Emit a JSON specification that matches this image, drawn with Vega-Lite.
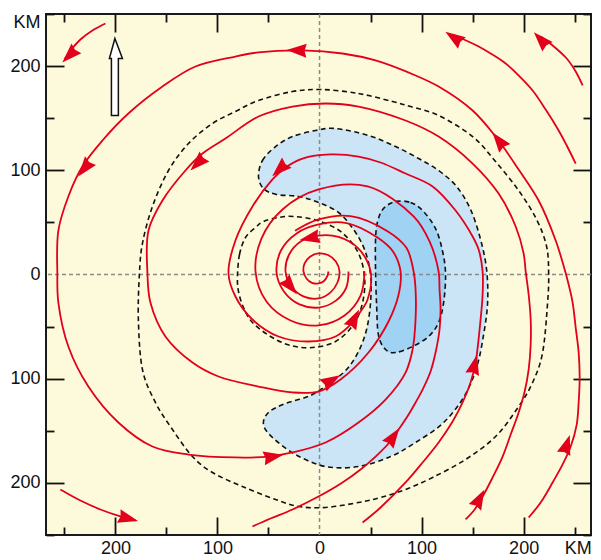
{
  "$schema": "https://vega.github.io/schema/vega-lite/v6.json",
  "width": 545,
  "height": 521,
  "autosize": "none",
  "padding": {"left": 46, "top": 14, "right": 10, "bottom": 25},
  "background": "white",
  "config": {
    "view": {"fill": "#fdfadb", "stroke": "#1a1a1a", "strokeWidth": 2},
    "axis": {"domain": false, "grid": false, "labelFont": "Liberation Sans", "labelFontSize": 18, "labelColor": "#111", "tickColor": "#111", "tickWidth": 1.8, "labelOverlap": false, "labelFlush": false}
  },
  "datasets": {
    "shapes": [
      {"id":"light","i":0,"x":-59.8,"y":94},{"id":"light","i":1,"x":-55.9,"y":109.4},{"id":"light","i":2,"x":-43.1,"y":122.8},{"id":"light","i":3,"x":-26.5,"y":132.4},{"id":"light","i":4,"x":-3.9,"y":138.2},{"id":"light","i":5,"x":15.7,"y":140.1},{"id":"light","i":6,"x":48,"y":133.4},{"id":"light","i":7,"x":74.5,"y":122.8},{"id":"light","i":8,"x":97.1,"y":111.3},{"id":"light","i":9,"x":116.7,"y":99.8},{"id":"light","i":10,"x":134.3,"y":84.5},{"id":"light","i":11,"x":148,"y":62.4},{"id":"light","i":12,"x":157.8,"y":33.6},{"id":"light","i":13,"x":163.7,"y":4.8},{"id":"light","i":14,"x":164.7,"y":-26.9},{"id":"light","i":15,"x":160.8,"y":-57.6},{"id":"light","i":16,"x":153.9,"y":-89.3},{"id":"light","i":17,"x":141.2,"y":-118},{"id":"light","i":18,"x":120.6,"y":-143},{"id":"light","i":19,"x":94.1,"y":-161.2},{"id":"light","i":20,"x":69.6,"y":-174.7},{"id":"light","i":21,"x":38.2,"y":-184.3},{"id":"light","i":22,"x":5.9,"y":-184.3},{"id":"light","i":23,"x":-23.5,"y":-172.8},{"id":"light","i":24,"x":-46.1,"y":-156.4},{"id":"light","i":25,"x":-54.9,"y":-144},{"id":"light","i":26,"x":-50,"y":-132.4},{"id":"light","i":27,"x":-33.3,"y":-123.8},{"id":"light","i":28,"x":-8.8,"y":-116.1},{"id":"light","i":29,"x":10.8,"y":-103.6},{"id":"light","i":30,"x":26.5,"y":-91.2},{"id":"light","i":31,"x":38.2,"y":-73.9},{"id":"light","i":32,"x":46.1,"y":-52.8},{"id":"light","i":33,"x":50,"y":-26.9},{"id":"light","i":34,"x":50,"y":0},{"id":"light","i":35,"x":44.1,"y":24},{"id":"light","i":36,"x":33.3,"y":43.2},{"id":"light","i":37,"x":18.6,"y":59.5},{"id":"light","i":38,"x":-1,"y":69.1},{"id":"light","i":39,"x":-20.6,"y":74.9},{"id":"light","i":40,"x":-42.2,"y":76.8},{"id":"light","i":41,"x":-54.9,"y":82.5},
      {"id":"dark","i":0,"x":74.5,"y":70.1},{"id":"dark","i":1,"x":89.2,"y":69.1},{"id":"dark","i":2,"x":101,"y":61.4},{"id":"dark","i":3,"x":113.7,"y":44.1},{"id":"dark","i":4,"x":120.6,"y":22.1},{"id":"dark","i":5,"x":123.5,"y":0},{"id":"dark","i":6,"x":121.6,"y":-26.9},{"id":"dark","i":7,"x":116.7,"y":-46.1},{"id":"dark","i":8,"x":106.9,"y":-59.5},{"id":"dark","i":9,"x":91.2,"y":-69.1},{"id":"dark","i":10,"x":74.5,"y":-74.9},{"id":"dark","i":11,"x":64.7,"y":-72},{"id":"dark","i":12,"x":57.8,"y":-58.5},{"id":"dark","i":13,"x":55.9,"y":-28.8},{"id":"dark","i":14,"x":54.9,"y":4.8},{"id":"dark","i":15,"x":54.9,"y":33.6},{"id":"dark","i":16,"x":56.9,"y":50.9},{"id":"dark","i":17,"x":62.7,"y":63.3},
      {"id":"outer","i":0,"x":2.9,"y":177.5},{"id":"outer","i":1,"x":38.2,"y":173.7},{"id":"outer","i":2,"x":71.6,"y":166},{"id":"outer","i":3,"x":89.2,"y":161.2},{"id":"outer","i":4,"x":116.7,"y":152.6},{"id":"outer","i":5,"x":150,"y":132.4},{"id":"outer","i":6,"x":172.5,"y":108.4},{"id":"outer","i":7,"x":195.1,"y":80.6},{"id":"outer","i":8,"x":212.7,"y":52.8},{"id":"outer","i":9,"x":222.5,"y":26.9},{"id":"outer","i":10,"x":224.5,"y":1},{"id":"outer","i":11,"x":223.5,"y":-26.9},{"id":"outer","i":12,"x":218.6,"y":-74.9},{"id":"outer","i":13,"x":208.8,"y":-103.6},{"id":"outer","i":14,"x":195.1,"y":-126.7},{"id":"outer","i":15,"x":172.5,"y":-155.5},{"id":"outer","i":16,"x":143.1,"y":-177.5},{"id":"outer","i":17,"x":110.8,"y":-194.8},{"id":"outer","i":18,"x":84.3,"y":-206.3},{"id":"outer","i":19,"x":59.8,"y":-214},{"id":"outer","i":20,"x":38.2,"y":-218.8},{"id":"outer","i":21,"x":5.9,"y":-223.6},{"id":"outer","i":22,"x":-20.6,"y":-222.6},{"id":"outer","i":23,"x":-43.1,"y":-215.9},{"id":"outer","i":24,"x":-75.5,"y":-203.5},{"id":"outer","i":25,"x":-104.9,"y":-190},{"id":"outer","i":26,"x":-124.5,"y":-174.7},{"id":"outer","i":27,"x":-144.1,"y":-148.8},{"id":"outer","i":28,"x":-160.8,"y":-122.8},{"id":"outer","i":29,"x":-173.5,"y":-91.2},{"id":"outer","i":30,"x":-177.5,"y":-43.2},{"id":"outer","i":31,"x":-176.5,"y":0},{"id":"outer","i":32,"x":-173.5,"y":29.8},{"id":"outer","i":33,"x":-163.7,"y":65.3},{"id":"outer","i":34,"x":-148,"y":99.8},{"id":"outer","i":35,"x":-128.4,"y":125.7},{"id":"outer","i":36,"x":-104.9,"y":144.9},{"id":"outer","i":37,"x":-82.4,"y":156.4},{"id":"outer","i":38,"x":-59.8,"y":167},{"id":"outer","i":39,"x":-26.5,"y":175.6},
      {"id":"inner","i":0,"x":-80.4,"y":-1.9},{"id":"inner","i":1,"x":-78.4,"y":19.2},{"id":"inner","i":2,"x":-72.5,"y":35.5},{"id":"inner","i":3,"x":-62.7,"y":45.1},{"id":"inner","i":4,"x":-54.9,"y":50.9},{"id":"inner","i":5,"x":-40.2,"y":54.7},{"id":"inner","i":6,"x":-25.5,"y":55.7},{"id":"inner","i":7,"x":-2,"y":51.8},{"id":"inner","i":8,"x":20.6,"y":41.3},{"id":"inner","i":9,"x":37.3,"y":22.1},{"id":"inner","i":10,"x":44.1,"y":-1.9},{"id":"inner","i":11,"x":42.2,"y":-26.9},{"id":"inner","i":12,"x":33.3,"y":-48},{"id":"inner","i":13,"x":15.7,"y":-64.3},{"id":"inner","i":14,"x":-6.9,"y":-70.1},{"id":"inner","i":15,"x":-28.4,"y":-68.1},{"id":"inner","i":16,"x":-48,"y":-59.5},{"id":"inner","i":17,"x":-65.7,"y":-46.1},{"id":"inner","i":18,"x":-74.5,"y":-31.7},{"id":"inner","i":19,"x":-79.4,"y":-16.3}
    ],
    "stream": [
      {"s":"C","i":0,"x":204.9,"y":-233.2},{"s":"C","i":1,"x":216.7,"y":-218.8},{"s":"C","i":2,"x":228.4,"y":-199.6},{"s":"C","i":3,"x":238.2,"y":-182.3},{"s":"C","i":4,"x":246.1,"y":-165.1},{"s":"C","i":5,"x":252,"y":-144},{"s":"C","i":6,"x":253.9,"y":-122.8},{"s":"C","i":7,"x":254.9,"y":-98.8},{"s":"C","i":8,"x":253.9,"y":-74.9},{"s":"C","i":9,"x":251,"y":-50.9},{"s":"C","i":10,"x":248,"y":-26.9},{"s":"C","i":11,"x":244.1,"y":-9.6},{"s":"C","i":12,"x":240.2,"y":4.8},{"s":"C","i":13,"x":231.4,"y":32.6},{"s":"C","i":14,"x":214.7,"y":71},{"s":"C","i":15,"x":195.1,"y":100.8},{"s":"C","i":16,"x":172.5,"y":132.4},{"s":"C","i":17,"x":150,"y":157.4},{"s":"C","i":18,"x":116.7,"y":180.4},{"s":"C","i":19,"x":94.1,"y":191},{"s":"C","i":20,"x":54.9,"y":205.4},{"s":"C","i":21,"x":22.5,"y":212.1},{"s":"C","i":22,"x":-16.7,"y":215},{"s":"C","i":23,"x":-59.8,"y":213.1},{"s":"C","i":24,"x":-82.4,"y":209.2},{"s":"C","i":25,"x":-121.6,"y":199.6},{"s":"C","i":26,"x":-153.9,"y":180.4},{"s":"C","i":27,"x":-187.3,"y":154.5},{"s":"C","i":28,"x":-212.7,"y":128.6},{"s":"C","i":29,"x":-232.4,"y":103.6},{"s":"C","i":30,"x":-246.1,"y":74.9},{"s":"C","i":31,"x":-255.9,"y":42.2},{"s":"C","i":32,"x":-256.9,"y":1},{"s":"C","i":33,"x":-255.9,"y":-26.9},{"s":"C","i":34,"x":-246.1,"y":-69.1},{"s":"C","i":35,"x":-226.5,"y":-107.5},{"s":"C","i":36,"x":-197.1,"y":-142},{"s":"C","i":37,"x":-163.7,"y":-165.1},{"s":"C","i":38,"x":-128.4,"y":-172.8},{"s":"C","i":39,"x":-82.4,"y":-175.6},{"s":"C","i":40,"x":-50,"y":-174.7},{"s":"C","i":41,"x":-26.5,"y":-170.8},{"s":"C","i":42,"x":5.9,"y":-161.2},{"s":"C","i":43,"x":38.2,"y":-142},{"s":"C","i":44,"x":64.7,"y":-120},{"s":"C","i":45,"x":84.3,"y":-94.1},{"s":"C","i":46,"x":91.2,"y":-72},{"s":"C","i":47,"x":94.1,"y":-43.2},{"s":"C","i":48,"x":94.1,"y":-14.4},{"s":"C","i":49,"x":92.2,"y":2.9},{"s":"C","i":50,"x":85.3,"y":25.4},{"s":"C","i":51,"x":67,"y":41.3},{"s":"C","i":52,"x":30.4,"y":56},{"s":"C","i":53,"x":-1,"y":52.8},{"s":"C","i":54,"x":-24,"y":41.9},
      {"s":"L4","i":0,"x":143.1,"y":-235.1},{"s":"L4","i":1,"x":152,"y":-225.5},{"s":"L4","i":2,"x":159.8,"y":-213.1},{"s":"L4","i":3,"x":169.6,"y":-194.8},{"s":"L4","i":4,"x":179.4,"y":-174.7},{"s":"L4","i":5,"x":187.3,"y":-153.6},{"s":"L4","i":6,"x":195.1,"y":-132.4},{"s":"L4","i":7,"x":201,"y":-112.3},{"s":"L4","i":8,"x":204.9,"y":-91.2},{"s":"L4","i":9,"x":206.9,"y":-67.2},{"s":"L4","i":10,"x":206.9,"y":-43.2},{"s":"L4","i":11,"x":204.9,"y":-19.2},{"s":"L4","i":12,"x":202,"y":2.9},{"s":"L4","i":13,"x":200,"y":20.2},{"s":"L4","i":14,"x":192.2,"y":46.1},{"s":"L4","i":15,"x":175.5,"y":77.7},{"s":"L4","i":16,"x":150,"y":106.5},{"s":"L4","i":17,"x":116.7,"y":132.4},{"s":"L4","i":18,"x":84.3,"y":147.8},{"s":"L4","i":19,"x":38.2,"y":161.2},{"s":"L4","i":20,"x":5.9,"y":164.1},{"s":"L4","i":21,"x":-26.5,"y":161.2},{"s":"L4","i":22,"x":-59.8,"y":151.6},{"s":"L4","i":23,"x":-92.2,"y":130.5},{"s":"L4","i":24,"x":-114.7,"y":116.1},{"s":"L4","i":25,"x":-131.4,"y":99.8},{"s":"L4","i":26,"x":-153.9,"y":71},{"s":"L4","i":27,"x":-167.6,"y":42.2},{"s":"L4","i":28,"x":-168.6,"y":1},{"s":"L4","i":29,"x":-165.7,"y":-26.9},{"s":"L4","i":30,"x":-151,"y":-59.5},{"s":"L4","i":31,"x":-124.5,"y":-84.5},{"s":"L4","i":32,"x":-99,"y":-97.9},{"s":"L4","i":33,"x":-59.8,"y":-107.5},{"s":"L4","i":34,"x":-26.5,"y":-113.2},{"s":"L4","i":35,"x":-1,"y":-112.3},{"s":"L4","i":36,"x":20.6,"y":-100.8},{"s":"L4","i":37,"x":48,"y":-74.9},{"s":"L4","i":38,"x":67.6,"y":-45.1},{"s":"L4","i":39,"x":77.5,"y":-19.2},{"s":"L4","i":40,"x":79.4,"y":2.9},{"s":"L4","i":41,"x":72,"y":22},{"s":"L4","i":42,"x":56.8,"y":35.5},{"s":"L4","i":43,"x":26.5,"y":49.4},{"s":"L4","i":44,"x":-1,"y":48},{"s":"L4","i":45,"x":-22.5,"y":39.4},{"s":"L4","i":46,"x":-37.5,"y":23.5},{"s":"L4","i":47,"x":-42.2,"y":2.9},{"s":"L4","i":48,"x":-34.9,"y":-16.3},{"s":"L4","i":49,"x":-19.6,"y":-28.7},{"s":"L4","i":50,"x":-1,"y":-31.7},{"s":"L4","i":51,"x":15.7,"y":-25.3},{"s":"L4","i":52,"x":26.2,"y":-12.5},{"s":"L4","i":53,"x":28.4,"y":2.9},
      {"s":"L2","i":0,"x":42.2,"y":-238},{"s":"L2","i":1,"x":59.8,"y":-223.6},{"s":"L2","i":2,"x":84.3,"y":-199.6},{"s":"L2","i":3,"x":101,"y":-180.4},{"s":"L2","i":4,"x":116.7,"y":-161.2},{"s":"L2","i":5,"x":130.4,"y":-141.1},{"s":"L2","i":6,"x":140.2,"y":-122.8},{"s":"L2","i":7,"x":148,"y":-103.6},{"s":"L2","i":8,"x":152.9,"y":-84.5},{"s":"L2","i":9,"x":157.8,"y":-43.2},{"s":"L2","i":10,"x":159.8,"y":-19.2},{"s":"L2","i":11,"x":159.8,"y":2.9},{"s":"L2","i":12,"x":155.9,"y":24},{"s":"L2","i":13,"x":150,"y":36.5},{"s":"L2","i":14,"x":133.3,"y":61.4},{"s":"L2","i":15,"x":110.8,"y":84.5},{"s":"L2","i":16,"x":84.3,"y":96.9},{"s":"L2","i":17,"x":59.8,"y":107.5},{"s":"L2","i":18,"x":38.2,"y":113.2},{"s":"L2","i":19,"x":10.8,"y":115.2},{"s":"L2","i":20,"x":-16.7,"y":111.3},{"s":"L2","i":21,"x":-33.3,"y":102.7},{"s":"L2","i":22,"x":-46.1,"y":91.2},{"s":"L2","i":23,"x":-65.7,"y":65.3},{"s":"L2","i":24,"x":-82.4,"y":32.6},{"s":"L2","i":25,"x":-89.2,"y":1},{"s":"L2","i":26,"x":-82.4,"y":-21.1},{"s":"L2","i":27,"x":-65.7,"y":-43.2},{"s":"L2","i":28,"x":-40.2,"y":-59.5},{"s":"L2","i":29,"x":-10.8,"y":-64.3},{"s":"L2","i":30,"x":15.7,"y":-59.5},{"s":"L2","i":31,"x":32.4,"y":-46.1},{"s":"L2","i":32,"x":38.2,"y":-38.4},{"s":"L2","i":33,"x":47.1,"y":-24},{"s":"L2","i":34,"x":50,"y":2.9},{"s":"L2","i":35,"x":38,"y":25},{"s":"L2","i":36,"x":18.6,"y":36.1},{"s":"L2","i":37,"x":-1,"y":37.4},{"s":"L2","i":38,"x":-18.1,"y":32},{"s":"L2","i":39,"x":-29.8,"y":19.2},{"s":"L2","i":40,"x":-33.3,"y":2.9},{"s":"L2","i":41,"x":-27.3,"y":-12},{"s":"L2","i":42,"x":-15.2,"y":-21.2},{"s":"L2","i":43,"x":-1,"y":-23},{"s":"L2","i":44,"x":10.8,"y":-17.1},{"s":"L2","i":45,"x":17.6,"y":-7.7},{"s":"L2","i":46,"x":19.6,"y":2.9},{"s":"L2","i":47,"x":16,"y":12.5},{"s":"L2","i":48,"x":8.3,"y":18.7},{"s":"L2","i":49,"x":-1,"y":20.2},{"s":"L2","i":50,"x":-9.3,"y":17},{"s":"L2","i":51,"x":-14.6,"y":10.6},{"s":"L2","i":52,"x":-15.7,"y":2.9},{"s":"L2","i":53,"x":-12.8,"y":-3.8},{"s":"L2","i":54,"x":-7.4,"y":-8},{"s":"L2","i":55,"x":-1,"y":-8.6},{"s":"L2","i":56,"x":4.4,"y":-6.2},{"s":"L2","i":57,"x":7.5,"y":-1.9},{"s":"L2","i":58,"x":8.8,"y":2.9},
      {"s":"L1","i":0,"x":-65.7,"y":-241.8},{"s":"L1","i":1,"x":-48,"y":-234.2},{"s":"L1","i":2,"x":-26.5,"y":-225.5},{"s":"L1","i":3,"x":-1,"y":-213.1},{"s":"L1","i":4,"x":22.5,"y":-199.6},{"s":"L1","i":5,"x":40.2,"y":-187.1},{"s":"L1","i":6,"x":54.9,"y":-174.7},{"s":"L1","i":7,"x":67.6,"y":-162.2},{"s":"L1","i":8,"x":77.5,"y":-148.8},{"s":"L1","i":9,"x":87.3,"y":-134.4},{"s":"L1","i":10,"x":94.1,"y":-122.8},{"s":"L1","i":11,"x":101,"y":-110.4},{"s":"L1","i":12,"x":108.8,"y":-93.1},{"s":"L1","i":13,"x":113.7,"y":-74.9},{"s":"L1","i":14,"x":117.6,"y":-52.8},{"s":"L1","i":15,"x":118.6,"y":-33.6},{"s":"L1","i":16,"x":117.6,"y":-14.4},{"s":"L1","i":17,"x":116.7,"y":2.9},{"s":"L1","i":18,"x":107.8,"y":31.7},{"s":"L1","i":19,"x":92.2,"y":55.7},{"s":"L1","i":20,"x":47.1,"y":84.5},{"s":"L1","i":21,"x":-1,"y":81.6},{"s":"L1","i":22,"x":-36.3,"y":62.4},{"s":"L1","i":23,"x":-56.9,"y":34.5},{"s":"L1","i":24,"x":-62.7,"y":2.9},{"s":"L1","i":25,"x":-52,"y":-25.9},{"s":"L1","i":26,"x":-28.4,"y":-44.1},{"s":"L1","i":27,"x":-1,"y":-48.9},{"s":"L1","i":28,"x":24.5,"y":-39.3},{"s":"L1","i":29,"x":40.2,"y":-20.2},{"s":"L1","i":30,"x":44.1,"y":2.9},
      {"s":"a","i":0,"x":-209.8,"y":240.9},{"s":"a","i":1,"x":-222.5,"y":234.2},{"s":"a","i":2,"x":-234.3,"y":225.5},{"s":"a","i":3,"x":-243.1,"y":215.9},{"s":"a","i":4,"x":-250,"y":206.3},
      {"s":"b","i":0,"x":-253.9,"y":-206.3},{"s":"b","i":1,"x":-234.3,"y":-216.9},{"s":"b","i":2,"x":-214.7,"y":-225.5},{"s":"b","i":3,"x":-195.1,"y":-232.2},{"s":"b","i":4,"x":-180.4,"y":-236.1},
      {"s":"c","i":0,"x":257.8,"y":181.4},{"s":"c","i":1,"x":251,"y":194.8},{"s":"c","i":2,"x":242.2,"y":207.3},{"s":"c","i":3,"x":228.4,"y":219.8},{"s":"c","i":4,"x":216.7,"y":228.4},
      {"s":"d","i":0,"x":251,"y":106.5},{"s":"d","i":1,"x":242.2,"y":123.8},{"s":"d","i":2,"x":234.3,"y":138.2},{"s":"d","i":3,"x":221.6,"y":158.3},{"s":"d","i":4,"x":208.8,"y":176.6},{"s":"d","i":5,"x":195.1,"y":191},{"s":"d","i":6,"x":182.4,"y":202.5},{"s":"d","i":7,"x":167.6,"y":212.1},{"s":"d","i":8,"x":155.9,"y":218.8},{"s":"d","i":9,"x":130.4,"y":230.3}
    ],
    "arrows": [
      {"x":-245.1,"y":210.2,"dir":225},{"x":-187.3,"y":-234.2,"dir":105},{"x":216.7,"y":225.5,"dir":317},{"x":131.4,"y":227.5,"dir":304},{"x":-22.5,"y":215,"dir":272},{"x":-230.4,"y":101.7,"dir":218},{"x":-45.1,"y":-174.7,"dir":80},{"x":242.2,"y":-163.1,"dir":18},{"x":175.5,"y":128.6,"dir":322},{"x":-119.6,"y":106.5,"dir":225},{"x":11.8,"y":-101.7,"dir":59},{"x":156.9,"y":-215,"dir":28},{"x":152,"y":-86.4,"dir":14},{"x":-39.2,"y":100.8,"dir":227},{"x":34.3,"y":-42.2,"dir":27},{"x":-9.8,"y":35,"dir":259},{"x":-28.4,"y":-11.5,"dir":140},{"x":72.5,"y":-155.5,"dir":35}
    ],
    "north": [
      {"i":0,"x":-200.5,"y":226.5},{"i":1,"x":-193.1,"y":207.3},{"i":2,"x":-197.1,"y":207.3},{"i":3,"x":-197.1,"y":152.6},{"i":4,"x":-203.9,"y":152.6},{"i":5,"x":-203.9,"y":207.3},{"i":6,"x":-205.9,"y":207.3}
    ]
  },
  "resolve": {"axis": {"x": "independent", "y": "independent"}},
  "layer": [
    {
      "data": {"name": "shapes"},
      "transform": [{"filter": "datum.id === 'light'"}],
      "mark": {"type": "line", "interpolate": "cardinal-closed", "fill": "#cbe5f7", "strokeWidth": 0},
      "encoding": {
        "x": {"field": "x", "type": "quantitative", "scale": {"domain": [-268, 266], "nice": false, "zero": false},
          "axis": {"orient": "bottom", "title": null, "values": [-250,-200,-150,-100,-50,0,50,100,150,200,250],
            "labelExpr": "datum.value === 250 ? 'KM' : (datum.value % 100 === 0 ? format(abs(datum.value), 'd') : '')",
            "tickSize": {"condition": {"test": "datum.value % 100 === 0", "value": -18}, "value": -8},
            "labelPadding": {"condition": {"test": "datum.value % 100 === 0", "value": 22}, "value": 12},
            "tickOpacity": {"condition": {"test": "datum.value === 0", "value": 0}, "value": 1},
            "labelOffset": {"condition": {"test": "datum.value === 250", "value": 3}, "value": 0}}},
        "y": {"field": "y", "type": "quantitative", "scale": {"domain": [-250, 250], "nice": false, "zero": false},
          "axis": {"orient": "left", "title": null, "values": [-250,-200,-150,-100,-50,0,50,100,150,200,250],
            "labelExpr": "datum.value === 250 ? 'KM' : (datum.value % 100 === 0 ? format(abs(datum.value), 'd') : '')",
            "tickSize": {"condition": {"test": "datum.value % 100 === 0", "value": -18}, "value": -8},
            "labelPadding": {"condition": {"test": "datum.value % 100 === 0", "value": 24}, "value": 14},
            "tickOpacity": {"condition": {"test": "datum.value === 0", "value": 0}, "value": 1},
            "labelOffset": {"condition": {"test": "datum.value === 250", "value": 8}, "value": 0}}},
        "order": {"field": "i", "type": "quantitative"}
      }
    },
    {
      "data": {"name": "shapes"},
      "transform": [{"filter": "datum.id === 'dark'"}],
      "mark": {"type": "line", "interpolate": "cardinal-closed", "fill": "#9fd2f3", "strokeWidth": 0},
      "encoding": {
        "x": {"field": "x", "type": "quantitative", "scale": {"domain": [-268, 266], "nice": false, "zero": false},
          "axis": {"orient": "top", "title": null, "labels": false, "values": [-250,-200,-150,-100,-50,0,50,100,150,200,250],
            "tickSize": {"condition": {"test": "datum.value % 100 === 0", "value": -18}, "value": -8},
            "tickOpacity": {"condition": {"test": "datum.value === 0", "value": 0}, "value": 1}}},
        "y": {"field": "y", "type": "quantitative", "scale": {"domain": [-250, 250], "nice": false, "zero": false},
          "axis": {"orient": "right", "title": null, "labels": false, "values": [-250,-200,-150,-100,-50,0,50,100,150,200,250],
            "tickSize": {"condition": {"test": "datum.value % 100 === 0", "value": -18}, "value": -8},
            "tickOpacity": {"condition": {"test": "datum.value === 0", "value": 0}, "value": 1}}},
        "order": {"field": "i", "type": "quantitative"}
      }
    },
    {
      "data": {"values": [{}]},
      "mark": {"type": "rule", "stroke": "#8a8a8a", "strokeWidth": 1.5, "strokeDash": [4, 3]},
      "encoding": {"x": {"datum": 0, "type": "quantitative", "scale": {"domain": [-268, 266], "nice": false, "zero": false}, "axis": null}}
    },
    {
      "data": {"values": [{}]},
      "mark": {"type": "rule", "stroke": "#8a8a8a", "strokeWidth": 1.5, "strokeDash": [4, 3]},
      "encoding": {"y": {"datum": 0, "type": "quantitative", "scale": {"domain": [-250, 250], "nice": false, "zero": false}, "axis": null}}
    },
    {
      "data": {"name": "shapes"},
      "mark": {"type": "line", "interpolate": "cardinal-closed", "stroke": "#111", "strokeWidth": 1.6, "strokeDash": [5, 3.5]},
      "encoding": {
        "x": {"field": "x", "type": "quantitative", "scale": {"domain": [-268, 266], "nice": false, "zero": false}, "axis": null},
        "y": {"field": "y", "type": "quantitative", "scale": {"domain": [-250, 250], "nice": false, "zero": false}, "axis": null},
        "detail": {"field": "id"},
        "order": {"field": "i", "type": "quantitative"}
      }
    },
    {
      "data": {"name": "stream"},
      "mark": {"type": "line", "interpolate": "catmull-rom", "stroke": "#e2001a", "strokeWidth": 1.8},
      "encoding": {
        "x": {"field": "x", "type": "quantitative", "scale": {"domain": [-268, 266], "nice": false, "zero": false}, "axis": null},
        "y": {"field": "y", "type": "quantitative", "scale": {"domain": [-250, 250], "nice": false, "zero": false}, "axis": null},
        "detail": {"field": "s"},
        "order": {"field": "i", "type": "quantitative"}
      }
    },
    {
      "data": {"name": "arrows"},
      "mark": {"type": "point", "shape": "M0,-1L0.7,1L0,0.8L-0.7,1Z", "filled": true, "fill": "#e2001a", "fillOpacity": 1, "strokeWidth": 0, "size": 400},
      "encoding": {
        "x": {"field": "x", "type": "quantitative", "scale": {"domain": [-268, 266], "nice": false, "zero": false}, "axis": null},
        "y": {"field": "y", "type": "quantitative", "scale": {"domain": [-250, 250], "nice": false, "zero": false}, "axis": null},
        "angle": {"field": "dir", "type": "quantitative", "scale": null}
      }
    },
    {
      "data": {"name": "north"},
      "mark": {"type": "line", "interpolate": "linear-closed", "fill": "white", "stroke": "#111", "strokeWidth": 1.5},
      "encoding": {
        "x": {"field": "x", "type": "quantitative", "scale": {"domain": [-268, 266], "nice": false, "zero": false}, "axis": null},
        "y": {"field": "y", "type": "quantitative", "scale": {"domain": [-250, 250], "nice": false, "zero": false}, "axis": null},
        "order": {"field": "i", "type": "quantitative"}
      }
    }
  ]
}
